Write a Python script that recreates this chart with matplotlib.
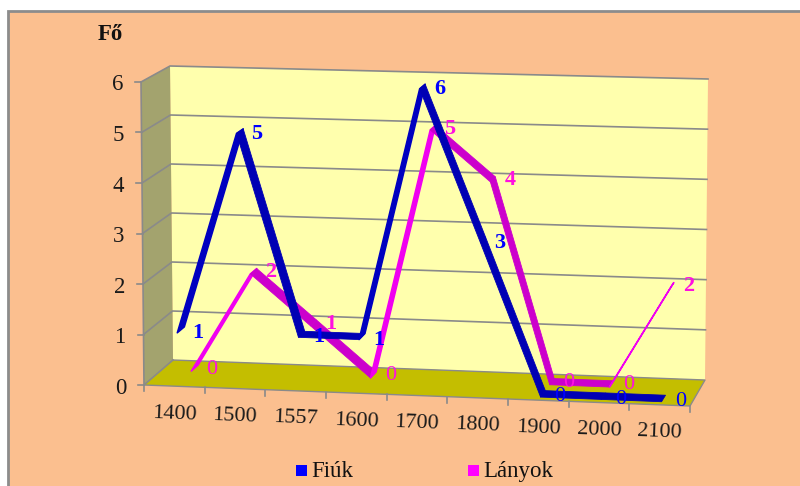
import numpy as np
import matplotlib
matplotlib.use('Agg')
import matplotlib.pyplot as plt
from matplotlib.patches import Polygon, Rectangle

plt.rcParams['font.family'] = ['Liberation Serif', 'DejaVu Serif']

years = ['1400', '1500', '1557', '1600', '1700', '1800', '1900', '2000', '2100']
fiuk = [1, 5, 1, 1, 6, 3, 0, 0, 0]
lanyok = [0, 2, 1, 0, 5, 4, 0, 0, 2]
yticks = [0, 1, 2, 3, 4, 5, 6]

# corners of the 3d box in screen pixels, [depth][value][category]
FBL, FBR = np.array([144., 385.]), np.array([690., 406.])
FTL, FTR = np.array([141., 82.]), np.array([693., 100.])
BBL, BBR = np.array([173., 360.]), np.array([705., 380.])
BTL, BTR = np.array([170., 66.]), np.array([708., 79.])


def proj(cat, val, depth):
    """ cat in category units (0..9), val 0..6, depth 0 front .. 1 back """
    u, v, d = cat / 9.0, val / 6.0, depth
    front = (1-v) * ((1-u)*FBL + u*FBR) + v * ((1-u)*FTL + u*FTR)
    back = (1-v) * ((1-u)*BBL + u*BBR) + v * ((1-u)*BTL + u*BTR)
    return (1-d) * front + d * back


def ribbon(ax, values, d0, d1, color, thin_color):
    for i in range(len(values) - 1):
        c0, c1 = i + 0.5, i + 1.5
        pts = [proj(c0, values[i], d0), proj(c1, values[i+1], d0),
               proj(c1, values[i+1], d1), proj(c0, values[i], d1)]
        rising = values[i+1] > values[i]
        col = thin_color if rising else color
        ax.add_patch(Polygon(pts, closed=True, fc=col, ec=col,
                             lw=1.1 if rising else 0.6,
                             joinstyle='round', zorder=4))


def labels(ax, values, depth, color, dx, dy):
    for i, val in enumerate(values):
        x, y = proj(i + 0.5, val, depth)
        ax.text(x + dx, y + dy, str(val), color=color, fontsize=16,
                fontweight='bold' if val else 'normal',
                ha='center', va='center', zorder=6)


fig = plt.figure(figsize=(8, 4.86), dpi=100)
ax = fig.add_axes([0, 0, 1, 1])
ax.set_xlim(0, 800)
ax.set_ylim(486, 0)
ax.axis('off')

# background and frame
ax.add_patch(Rectangle((8, 11), 800, 480, fc='#FBBF8F', ec='#8C8C8C', lw=2, zorder=0))

# walls
ax.add_patch(Polygon([BBL, BBR, BTR, BTL], fc='#FFFFAD', ec='none', zorder=1))
ax.add_patch(Polygon([FBL, BBL, BTL, FTL], fc='#A3A36E', ec='none', zorder=1))
ax.add_patch(Polygon([FBL, FBR, BBR, BBL], fc='#C4BE00', ec='none', zorder=1))

# gridlines
grid = '#8A8A8A'
for val in yticks:
    pts = np.array([proj(0, val, 0), proj(0, val, 1), proj(9, val, 1)])
    if val == 0:
        pts = pts[:2]
    ax.plot(pts[:, 0], pts[:, 1], color=grid, lw=1.2, zorder=2)
    p = proj(0, val, 0)
    ax.plot([p[0] - 6, p[0]], [p[1], p[1]], color=grid, lw=1.2, zorder=2)
    ax.text(p[0] - 18, p[1] + 3, str(val), fontsize=16.5, color='#1a1a1a',
            ha='right', va='center', zorder=5)

# axis edges
ax.plot([FBL[0], FTL[0]], [FBL[1], FTL[1]], color=grid, lw=1.2, zorder=2)
ax.plot([FBL[0], FBR[0], BBR[0], BBL[0]], [FBL[1], FBR[1], BBR[1], BBL[1]],
        color=grid, lw=1.0, zorder=2)

# category ticks and labels
for i in range(len(years) + 1):
    p = proj(i, 0, 0)
    ax.plot([p[0], p[0]], [p[1], p[1] + 6], color=grid, lw=1.2, zorder=2)
for i, year in enumerate(years):
    p = proj(i + 0.5, 0, 0)
    ax.text(p[0], p[1] + 28, year, fontsize=16, color='#1a1a1a', rotation=-2.2,
            rotation_mode='anchor', ha='center', va='center', zorder=5)

# series, rear one first
ribbon(ax, lanyok, 0.60, 0.84, '#CC00CC', '#F000F0')
ribbon(ax, fiuk, 0.12, 0.37, '#0000B4', '#0000C0')
labels(ax, lanyok, 0.72, '#FF10E0', 17, 1)
labels(ax, fiuk, 0.245, '#0000FF', 17, 3)

ax.text(110, 35, 'Fő', fontsize=16.5, fontweight='bold', color='#111111',
        ha='center', va='center', zorder=5)

# legend
for x, name, color in [(296, 'Fiúk', '#0000FF'), (468, 'Lányok', '#FF00FF')]:
    ax.add_patch(Rectangle((x, 465), 11, 10.5, fc=color, ec='none', zorder=5))
    ax.text(x + 15.5, 471, name, fontsize=16.5, color='#111111',
            ha='left', va='center', zorder=5)

fig.savefig('out.png', dpi=100, facecolor='white')
